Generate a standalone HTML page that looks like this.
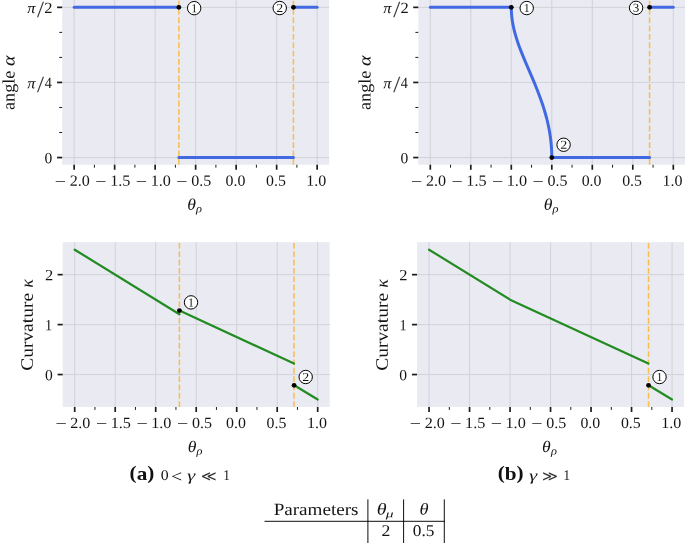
<!DOCTYPE html>
<html lang="en"><head><meta charset="utf-8"><title>Figure</title>
<style>html,body{margin:0;padding:0;background:#fff}body{width:685px;height:543px;overflow:hidden}svg{display:block}svg text{font-family:"Liberation Serif","DejaVu Serif",serif;font-kerning:none}</style>
</head><body>
<svg width="685" height="543" viewBox="0 0 685 543">
<rect width="685" height="543" fill="#fff"/>
<rect x="62.15" y="-0.10" width="267.0" height="164.85" fill="#eaeaf2"/>
<line x1="74.15" x2="74.15" y1="-0.10" y2="164.75" stroke="#cfcfd7" stroke-width="0.9"/>
<line x1="114.65" x2="114.65" y1="-0.10" y2="164.75" stroke="#cfcfd7" stroke-width="0.9"/>
<line x1="155.15" x2="155.15" y1="-0.10" y2="164.75" stroke="#cfcfd7" stroke-width="0.9"/>
<line x1="195.65" x2="195.65" y1="-0.10" y2="164.75" stroke="#cfcfd7" stroke-width="0.9"/>
<line x1="236.15" x2="236.15" y1="-0.10" y2="164.75" stroke="#cfcfd7" stroke-width="0.9"/>
<line x1="276.65" x2="276.65" y1="-0.10" y2="164.75" stroke="#cfcfd7" stroke-width="0.9"/>
<line x1="317.15" x2="317.15" y1="-0.10" y2="164.75" stroke="#cfcfd7" stroke-width="0.9"/>
<line x1="62.15" x2="329.15" y1="157.55" y2="157.55" stroke="#cfcfd7" stroke-width="0.9"/>
<line x1="62.15" x2="329.15" y1="82.45" y2="82.45" stroke="#cfcfd7" stroke-width="0.9"/>
<line x1="62.15" x2="329.15" y1="7.35" y2="7.35" stroke="#cfcfd7" stroke-width="0.9"/>
<line x1="74.15" x2="74.15" y1="164.75" y2="169.75" stroke="#1c1c1c" stroke-width="1.7"/>
<line x1="114.65" x2="114.65" y1="164.75" y2="169.75" stroke="#1c1c1c" stroke-width="1.7"/>
<line x1="155.15" x2="155.15" y1="164.75" y2="169.75" stroke="#1c1c1c" stroke-width="1.7"/>
<line x1="195.65" x2="195.65" y1="164.75" y2="169.75" stroke="#1c1c1c" stroke-width="1.7"/>
<line x1="236.15" x2="236.15" y1="164.75" y2="169.75" stroke="#1c1c1c" stroke-width="1.7"/>
<line x1="276.65" x2="276.65" y1="164.75" y2="169.75" stroke="#1c1c1c" stroke-width="1.7"/>
<line x1="317.15" x2="317.15" y1="164.75" y2="169.75" stroke="#1c1c1c" stroke-width="1.7"/>
<line x1="94.40" x2="94.40" y1="164.75" y2="167.65" stroke="#1c1c1c" stroke-width="1.0"/>
<line x1="134.90" x2="134.90" y1="164.75" y2="167.65" stroke="#1c1c1c" stroke-width="1.0"/>
<line x1="175.40" x2="175.40" y1="164.75" y2="167.65" stroke="#1c1c1c" stroke-width="1.0"/>
<line x1="215.90" x2="215.90" y1="164.75" y2="167.65" stroke="#1c1c1c" stroke-width="1.0"/>
<line x1="256.40" x2="256.40" y1="164.75" y2="167.65" stroke="#1c1c1c" stroke-width="1.0"/>
<line x1="296.90" x2="296.90" y1="164.75" y2="167.65" stroke="#1c1c1c" stroke-width="1.0"/>
<line x1="57.05" x2="62.15" y1="157.55" y2="157.55" stroke="#1c1c1c" stroke-width="1.7"/>
<line x1="57.05" x2="62.15" y1="82.45" y2="82.45" stroke="#1c1c1c" stroke-width="1.7"/>
<line x1="57.05" x2="62.15" y1="7.35" y2="7.35" stroke="#1c1c1c" stroke-width="1.7"/>
<line x1="59.25" x2="62.15" y1="132.52" y2="132.52" stroke="#1c1c1c" stroke-width="1.0"/>
<line x1="59.25" x2="62.15" y1="107.48" y2="107.48" stroke="#1c1c1c" stroke-width="1.0"/>
<line x1="59.25" x2="62.15" y1="57.42" y2="57.42" stroke="#1c1c1c" stroke-width="1.0"/>
<line x1="59.25" x2="62.15" y1="32.38" y2="32.38" stroke="#1c1c1c" stroke-width="1.0"/>
<text transform="translate(54.85,186.45) rotate(0.03) scale(1.2811,1)" font-size="15.6" fill="#141414">−</text>
<text transform="translate(69.74,185.85) rotate(0.03) scale(1.0318,1)" font-size="15.6" fill="#141414">2.0</text>
<text transform="translate(95.35,186.45) rotate(0.03) scale(1.2811,1)" font-size="15.6" fill="#141414">−</text>
<text transform="translate(110.13,185.85) rotate(0.03) scale(1.0388,1)" font-size="15.6" fill="#141414">1.5</text>
<text transform="translate(135.85,186.45) rotate(0.03) scale(1.2811,1)" font-size="15.6" fill="#141414">−</text>
<text transform="translate(150.63,185.85) rotate(0.03) scale(1.0379,1)" font-size="15.6" fill="#141414">1.0</text>
<text transform="translate(176.35,186.45) rotate(0.03) scale(1.2811,1)" font-size="15.6" fill="#141414">−</text>
<text transform="translate(191.34,185.85) rotate(0.03) scale(1.0275,1)" font-size="15.6" fill="#141414">0.5</text>
<text transform="translate(225.55,185.85) rotate(0.03) scale(1.0157,1)" font-size="15.6" fill="#141414">0.0</text>
<text transform="translate(266.05,185.85) rotate(0.03) scale(1.0166,1)" font-size="15.6" fill="#141414">0.5</text>
<text transform="translate(306.34,185.85) rotate(0.03) scale(1.0265,1)" font-size="15.6" fill="#141414">1.0</text>
<text transform="translate(44.46,163.15) rotate(0.03) scale(0.9982,1)" font-size="15.6" fill="#141414">0</text>
<text transform="translate(44.67,88.05) rotate(0.03) scale(0.9101,1)" font-size="15.6" fill="#141414">4</text>
<text transform="translate(37.05,92.05) rotate(0.03) scale(1.0860,1)" font-size="23.2" fill="#3a3a3a">/</text>
<text transform="translate(27.16,88.15) rotate(0.03) scale(1.0749,1)" font-size="15.25" font-style="italic" fill="#141414">π</text>
<text transform="translate(44.23,12.95) rotate(0.03) scale(1.0554,1)" font-size="15.6" fill="#141414">2</text>
<text transform="translate(37.05,16.95) rotate(0.03) scale(1.0860,1)" font-size="23.2" fill="#3a3a3a">/</text>
<text transform="translate(27.16,13.05) rotate(0.03) scale(1.0749,1)" font-size="15.25" font-style="italic" fill="#141414">π</text>
<line x1="178.87" x2="178.87" y1="164.75" y2="-0.10" stroke="#f9be50" stroke-width="1.55" stroke-dasharray="5.83 2.5"/>
<line x1="293.43" x2="293.43" y1="164.75" y2="-0.10" stroke="#f9be50" stroke-width="1.55" stroke-dasharray="5.83 2.5"/>
<line x1="74.15" x2="178.87" y1="7.35" y2="7.35" stroke="#4169e1" stroke-width="3.0" stroke-linecap="round"/>
<line x1="178.87" x2="293.43" y1="157.55" y2="157.55" stroke="#4169e1" stroke-width="3.0" stroke-linecap="round"/>
<line x1="293.43" x2="317.15" y1="7.35" y2="7.35" stroke="#4169e1" stroke-width="3.0" stroke-linecap="round"/>
<circle cx="178.87" cy="7.35" r="2.4" fill="#000"/>
<circle cx="293.43" cy="7.35" r="2.4" fill="#000"/>
<circle cx="194.17" cy="8.15" r="6.7" fill="#fff" stroke="#000" stroke-width="1.0"/>
<text transform="translate(191.23,12.15) rotate(0.03) scale(0.9779,1)" font-size="12.2" fill="#141414">1</text>
<circle cx="279.73" cy="8.05" r="6.7" fill="#fff" stroke="#000" stroke-width="1.0"/>
<text transform="translate(276.31,12.05) rotate(0.03) scale(1.1450,1)" font-size="12.2" fill="#141414">2</text>
<text transform="translate(187.19,209.75) rotate(0.03) scale(1.0903,1)" font-size="16.2" font-style="italic" fill="#141414">θ</text>
<text transform="translate(196.07,212.35) rotate(0.03) scale(1.1088,1)" font-size="11.2" font-style="italic" fill="#141414">ρ</text>
<g transform="translate(14.40,109.30) rotate(-90)">
<text transform="translate(-0.64,0.00) rotate(0.03) scale(1.0361,1)" font-size="17.5" fill="#141414">angle</text>
<text transform="translate(43.41,0.00) rotate(0.03) scale(1.1390,1)" font-size="17.5" font-style="italic" fill="#141414">α</text>
</g>
<rect x="418.30" y="-0.10" width="267.0" height="164.85" fill="#eaeaf2"/>
<line x1="430.30" x2="430.30" y1="-0.10" y2="164.75" stroke="#cfcfd7" stroke-width="0.9"/>
<line x1="470.80" x2="470.80" y1="-0.10" y2="164.75" stroke="#cfcfd7" stroke-width="0.9"/>
<line x1="511.30" x2="511.30" y1="-0.10" y2="164.75" stroke="#cfcfd7" stroke-width="0.9"/>
<line x1="551.80" x2="551.80" y1="-0.10" y2="164.75" stroke="#cfcfd7" stroke-width="0.9"/>
<line x1="592.30" x2="592.30" y1="-0.10" y2="164.75" stroke="#cfcfd7" stroke-width="0.9"/>
<line x1="632.80" x2="632.80" y1="-0.10" y2="164.75" stroke="#cfcfd7" stroke-width="0.9"/>
<line x1="673.30" x2="673.30" y1="-0.10" y2="164.75" stroke="#cfcfd7" stroke-width="0.9"/>
<line x1="418.30" x2="685.30" y1="157.55" y2="157.55" stroke="#cfcfd7" stroke-width="0.9"/>
<line x1="418.30" x2="685.30" y1="82.45" y2="82.45" stroke="#cfcfd7" stroke-width="0.9"/>
<line x1="418.30" x2="685.30" y1="7.35" y2="7.35" stroke="#cfcfd7" stroke-width="0.9"/>
<line x1="430.30" x2="430.30" y1="164.75" y2="169.75" stroke="#1c1c1c" stroke-width="1.7"/>
<line x1="470.80" x2="470.80" y1="164.75" y2="169.75" stroke="#1c1c1c" stroke-width="1.7"/>
<line x1="511.30" x2="511.30" y1="164.75" y2="169.75" stroke="#1c1c1c" stroke-width="1.7"/>
<line x1="551.80" x2="551.80" y1="164.75" y2="169.75" stroke="#1c1c1c" stroke-width="1.7"/>
<line x1="592.30" x2="592.30" y1="164.75" y2="169.75" stroke="#1c1c1c" stroke-width="1.7"/>
<line x1="632.80" x2="632.80" y1="164.75" y2="169.75" stroke="#1c1c1c" stroke-width="1.7"/>
<line x1="673.30" x2="673.30" y1="164.75" y2="169.75" stroke="#1c1c1c" stroke-width="1.7"/>
<line x1="450.55" x2="450.55" y1="164.75" y2="167.65" stroke="#1c1c1c" stroke-width="1.0"/>
<line x1="491.05" x2="491.05" y1="164.75" y2="167.65" stroke="#1c1c1c" stroke-width="1.0"/>
<line x1="531.55" x2="531.55" y1="164.75" y2="167.65" stroke="#1c1c1c" stroke-width="1.0"/>
<line x1="572.05" x2="572.05" y1="164.75" y2="167.65" stroke="#1c1c1c" stroke-width="1.0"/>
<line x1="612.55" x2="612.55" y1="164.75" y2="167.65" stroke="#1c1c1c" stroke-width="1.0"/>
<line x1="653.05" x2="653.05" y1="164.75" y2="167.65" stroke="#1c1c1c" stroke-width="1.0"/>
<line x1="413.20" x2="418.30" y1="157.55" y2="157.55" stroke="#1c1c1c" stroke-width="1.7"/>
<line x1="413.20" x2="418.30" y1="82.45" y2="82.45" stroke="#1c1c1c" stroke-width="1.7"/>
<line x1="413.20" x2="418.30" y1="7.35" y2="7.35" stroke="#1c1c1c" stroke-width="1.7"/>
<line x1="415.40" x2="418.30" y1="132.52" y2="132.52" stroke="#1c1c1c" stroke-width="1.0"/>
<line x1="415.40" x2="418.30" y1="107.48" y2="107.48" stroke="#1c1c1c" stroke-width="1.0"/>
<line x1="415.40" x2="418.30" y1="57.42" y2="57.42" stroke="#1c1c1c" stroke-width="1.0"/>
<line x1="415.40" x2="418.30" y1="32.38" y2="32.38" stroke="#1c1c1c" stroke-width="1.0"/>
<text transform="translate(411.00,186.45) rotate(0.03) scale(1.2811,1)" font-size="15.6" fill="#141414">−</text>
<text transform="translate(425.89,185.85) rotate(0.03) scale(1.0318,1)" font-size="15.6" fill="#141414">2.0</text>
<text transform="translate(451.50,186.45) rotate(0.03) scale(1.2811,1)" font-size="15.6" fill="#141414">−</text>
<text transform="translate(466.28,185.85) rotate(0.03) scale(1.0388,1)" font-size="15.6" fill="#141414">1.5</text>
<text transform="translate(492.00,186.45) rotate(0.03) scale(1.2811,1)" font-size="15.6" fill="#141414">−</text>
<text transform="translate(506.78,185.85) rotate(0.03) scale(1.0379,1)" font-size="15.6" fill="#141414">1.0</text>
<text transform="translate(532.50,186.45) rotate(0.03) scale(1.2811,1)" font-size="15.6" fill="#141414">−</text>
<text transform="translate(547.49,185.85) rotate(0.03) scale(1.0275,1)" font-size="15.6" fill="#141414">0.5</text>
<text transform="translate(581.70,185.85) rotate(0.03) scale(1.0157,1)" font-size="15.6" fill="#141414">0.0</text>
<text transform="translate(622.20,185.85) rotate(0.03) scale(1.0166,1)" font-size="15.6" fill="#141414">0.5</text>
<text transform="translate(662.49,185.85) rotate(0.03) scale(1.0265,1)" font-size="15.6" fill="#141414">1.0</text>
<text transform="translate(400.61,163.15) rotate(0.03) scale(0.9982,1)" font-size="15.6" fill="#141414">0</text>
<text transform="translate(400.82,88.05) rotate(0.03) scale(0.9101,1)" font-size="15.6" fill="#141414">4</text>
<text transform="translate(393.20,92.05) rotate(0.03) scale(1.0860,1)" font-size="23.2" fill="#3a3a3a">/</text>
<text transform="translate(383.31,88.15) rotate(0.03) scale(1.0749,1)" font-size="15.25" font-style="italic" fill="#141414">π</text>
<text transform="translate(400.38,12.95) rotate(0.03) scale(1.0554,1)" font-size="15.6" fill="#141414">2</text>
<text transform="translate(393.20,16.95) rotate(0.03) scale(1.0860,1)" font-size="23.2" fill="#3a3a3a">/</text>
<text transform="translate(383.31,13.05) rotate(0.03) scale(1.0749,1)" font-size="15.25" font-style="italic" fill="#141414">π</text>
<line x1="649.58" x2="649.58" y1="164.75" y2="-0.10" stroke="#f9be50" stroke-width="1.55" stroke-dasharray="5.83 2.5"/>
<line x1="430.30" x2="511.30" y1="7.35" y2="7.35" stroke="#4169e1" stroke-width="3.0" stroke-linecap="round"/>
<line x1="551.80" x2="649.58" y1="157.55" y2="157.55" stroke="#4169e1" stroke-width="3.0" stroke-linecap="round"/>
<line x1="649.58" x2="673.30" y1="7.35" y2="7.35" stroke="#4169e1" stroke-width="3.0" stroke-linecap="round"/>
<polyline points="511.30,7.35 511.31,8.60 511.34,9.85 511.38,11.11 511.44,12.36 511.52,13.61 511.62,14.86 511.74,16.11 511.87,17.36 512.02,18.62 512.19,19.87 512.38,21.12 512.58,22.37 512.80,23.62 513.03,24.87 513.28,26.13 513.54,27.38 513.83,28.63 514.12,29.88 514.43,31.13 514.75,32.38 515.09,33.64 515.44,34.89 515.81,36.14 516.18,37.39 516.57,38.64 516.97,39.89 517.38,41.15 517.81,42.40 518.24,43.65 518.68,44.90 519.13,46.15 519.59,47.40 520.06,48.66 520.54,49.91 521.02,51.16 521.51,52.41 522.01,53.66 522.51,54.91 523.02,56.17 523.54,57.42 524.05,58.67 524.58,59.92 525.10,61.17 525.63,62.42 526.16,63.68 526.70,64.93 527.23,66.18 527.77,67.43 528.31,68.68 528.85,69.93 529.39,71.19 529.93,72.44 530.47,73.69 531.00,74.94 531.54,76.19 532.07,77.44 532.60,78.70 533.13,79.95 533.66,81.20 534.18,82.45 534.70,83.70 535.22,84.95 535.73,86.21 536.23,87.46 536.74,88.71 537.23,89.96 537.73,91.21 538.21,92.46 538.69,93.72 539.17,94.97 539.63,96.22 540.10,97.47 540.55,98.72 541.00,99.97 541.44,101.23 541.87,102.48 542.30,103.73 542.72,104.98 543.13,106.23 543.53,107.48 543.92,108.74 544.31,109.99 544.68,111.24 545.05,112.49 545.41,113.74 545.76,114.99 546.10,116.25 546.44,117.50 546.76,118.75 547.07,120.00 547.38,121.25 547.67,122.50 547.96,123.76 548.23,125.01 548.50,126.26 548.76,127.51 549.00,128.76 549.24,130.01 549.46,131.27 549.68,132.52 549.88,133.77 550.08,135.02 550.26,136.27 550.44,137.52 550.60,138.78 550.76,140.03 550.90,141.28 551.03,142.53 551.15,143.78 551.27,145.03 551.37,146.29 551.46,147.54 551.54,148.79 551.61,150.04 551.67,151.29 551.71,152.54 551.75,153.80 551.78,155.05 551.79,156.30 551.80,157.55" fill="none" stroke="#4169e1" stroke-width="3.0" stroke-linecap="round" stroke-linejoin="round"/>
<circle cx="511.30" cy="7.35" r="2.4" fill="#000"/>
<circle cx="551.80" cy="157.55" r="2.4" fill="#000"/>
<circle cx="649.58" cy="7.35" r="2.4" fill="#000"/>
<circle cx="526.70" cy="8.05" r="6.7" fill="#fff" stroke="#000" stroke-width="1.0"/>
<text transform="translate(523.75,12.05) rotate(0.03) scale(0.9779,1)" font-size="12.2" fill="#141414">1</text>
<circle cx="563.60" cy="144.75" r="6.7" fill="#fff" stroke="#000" stroke-width="1.0"/>
<text transform="translate(560.19,148.75) rotate(0.03) scale(1.1450,1)" font-size="12.2" fill="#141414">2</text>
<circle cx="636.08" cy="7.85" r="6.7" fill="#fff" stroke="#000" stroke-width="1.0"/>
<text transform="translate(632.75,11.85) rotate(0.03) scale(1.0715,1)" font-size="12.2" fill="#141414">3</text>
<text transform="translate(543.74,209.75) rotate(0.03) scale(1.0903,1)" font-size="16.2" font-style="italic" fill="#141414">θ</text>
<text transform="translate(552.62,212.35) rotate(0.03) scale(1.1088,1)" font-size="11.2" font-style="italic" fill="#141414">ρ</text>
<g transform="translate(370.60,109.30) rotate(-90)">
<text transform="translate(-0.64,0.00) rotate(0.03) scale(1.0361,1)" font-size="17.5" fill="#141414">angle</text>
<text transform="translate(43.41,0.00) rotate(0.03) scale(1.1390,1)" font-size="17.5" font-style="italic" fill="#141414">α</text>
</g>
<rect x="62.70" y="242.15" width="267.0" height="164.85" fill="#eaeaf2"/>
<line x1="74.70" x2="74.70" y1="242.15" y2="407.00" stroke="#cfcfd7" stroke-width="0.9"/>
<line x1="115.20" x2="115.20" y1="242.15" y2="407.00" stroke="#cfcfd7" stroke-width="0.9"/>
<line x1="155.70" x2="155.70" y1="242.15" y2="407.00" stroke="#cfcfd7" stroke-width="0.9"/>
<line x1="196.20" x2="196.20" y1="242.15" y2="407.00" stroke="#cfcfd7" stroke-width="0.9"/>
<line x1="236.70" x2="236.70" y1="242.15" y2="407.00" stroke="#cfcfd7" stroke-width="0.9"/>
<line x1="277.20" x2="277.20" y1="242.15" y2="407.00" stroke="#cfcfd7" stroke-width="0.9"/>
<line x1="317.70" x2="317.70" y1="242.15" y2="407.00" stroke="#cfcfd7" stroke-width="0.9"/>
<line x1="62.70" x2="329.70" y1="374.54" y2="374.54" stroke="#cfcfd7" stroke-width="0.9"/>
<line x1="62.70" x2="329.70" y1="324.60" y2="324.60" stroke="#cfcfd7" stroke-width="0.9"/>
<line x1="62.70" x2="329.70" y1="274.66" y2="274.66" stroke="#cfcfd7" stroke-width="0.9"/>
<line x1="74.70" x2="74.70" y1="407.00" y2="412.00" stroke="#1c1c1c" stroke-width="1.7"/>
<line x1="115.20" x2="115.20" y1="407.00" y2="412.00" stroke="#1c1c1c" stroke-width="1.7"/>
<line x1="155.70" x2="155.70" y1="407.00" y2="412.00" stroke="#1c1c1c" stroke-width="1.7"/>
<line x1="196.20" x2="196.20" y1="407.00" y2="412.00" stroke="#1c1c1c" stroke-width="1.7"/>
<line x1="236.70" x2="236.70" y1="407.00" y2="412.00" stroke="#1c1c1c" stroke-width="1.7"/>
<line x1="277.20" x2="277.20" y1="407.00" y2="412.00" stroke="#1c1c1c" stroke-width="1.7"/>
<line x1="317.70" x2="317.70" y1="407.00" y2="412.00" stroke="#1c1c1c" stroke-width="1.7"/>
<line x1="94.95" x2="94.95" y1="407.00" y2="409.90" stroke="#1c1c1c" stroke-width="1.0"/>
<line x1="135.45" x2="135.45" y1="407.00" y2="409.90" stroke="#1c1c1c" stroke-width="1.0"/>
<line x1="175.95" x2="175.95" y1="407.00" y2="409.90" stroke="#1c1c1c" stroke-width="1.0"/>
<line x1="216.45" x2="216.45" y1="407.00" y2="409.90" stroke="#1c1c1c" stroke-width="1.0"/>
<line x1="256.95" x2="256.95" y1="407.00" y2="409.90" stroke="#1c1c1c" stroke-width="1.0"/>
<line x1="297.45" x2="297.45" y1="407.00" y2="409.90" stroke="#1c1c1c" stroke-width="1.0"/>
<line x1="57.60" x2="62.70" y1="374.54" y2="374.54" stroke="#1c1c1c" stroke-width="1.7"/>
<line x1="57.60" x2="62.70" y1="324.60" y2="324.60" stroke="#1c1c1c" stroke-width="1.7"/>
<line x1="57.60" x2="62.70" y1="274.66" y2="274.66" stroke="#1c1c1c" stroke-width="1.7"/>
<text transform="translate(55.40,428.70) rotate(0.03) scale(1.2811,1)" font-size="15.6" fill="#141414">−</text>
<text transform="translate(70.29,428.10) rotate(0.03) scale(1.0318,1)" font-size="15.6" fill="#141414">2.0</text>
<text transform="translate(95.90,428.70) rotate(0.03) scale(1.2811,1)" font-size="15.6" fill="#141414">−</text>
<text transform="translate(110.68,428.10) rotate(0.03) scale(1.0388,1)" font-size="15.6" fill="#141414">1.5</text>
<text transform="translate(136.40,428.70) rotate(0.03) scale(1.2811,1)" font-size="15.6" fill="#141414">−</text>
<text transform="translate(151.18,428.10) rotate(0.03) scale(1.0379,1)" font-size="15.6" fill="#141414">1.0</text>
<text transform="translate(176.90,428.70) rotate(0.03) scale(1.2811,1)" font-size="15.6" fill="#141414">−</text>
<text transform="translate(191.89,428.10) rotate(0.03) scale(1.0275,1)" font-size="15.6" fill="#141414">0.5</text>
<text transform="translate(226.10,428.10) rotate(0.03) scale(1.0157,1)" font-size="15.6" fill="#141414">0.0</text>
<text transform="translate(266.60,428.10) rotate(0.03) scale(1.0166,1)" font-size="15.6" fill="#141414">0.5</text>
<text transform="translate(306.89,428.10) rotate(0.03) scale(1.0265,1)" font-size="15.6" fill="#141414">1.0</text>
<text transform="translate(45.01,380.14) rotate(0.03) scale(0.9982,1)" font-size="15.6" fill="#141414">0</text>
<text transform="translate(45.05,330.20) rotate(0.03) scale(0.9104,1)" font-size="15.6" fill="#141414">1</text>
<text transform="translate(44.88,280.26) rotate(0.03) scale(1.0554,1)" font-size="15.6" fill="#141414">2</text>
<line x1="179.42" x2="179.42" y1="407.00" y2="242.15" stroke="#f9be50" stroke-width="1.55" stroke-dasharray="5.83 2.5"/>
<line x1="293.98" x2="293.98" y1="407.00" y2="242.15" stroke="#f9be50" stroke-width="1.55" stroke-dasharray="5.83 2.5"/>
<polyline points="74.70,249.69 179.42,314.26" fill="none" stroke="#228b22" stroke-width="2.2" stroke-linecap="round" stroke-linejoin="round"/>
<polyline points="179.42,310.60 293.98,363.57" fill="none" stroke="#228b22" stroke-width="2.2" stroke-linecap="round" stroke-linejoin="round"/>
<polyline points="294.18,385.30 317.70,399.51" fill="none" stroke="#228b22" stroke-width="2.2" stroke-linecap="round" stroke-linejoin="round"/>
<circle cx="179.42" cy="310.60" r="2.4" fill="#000"/>
<circle cx="294.08" cy="385.30" r="2.4" fill="#000"/>
<circle cx="191.02" cy="302.40" r="6.7" fill="#fff" stroke="#000" stroke-width="1.0"/>
<text transform="translate(188.08,306.40) rotate(0.03) scale(0.9779,1)" font-size="12.2" fill="#141414">1</text>
<circle cx="305.68" cy="377.00" r="6.7" fill="#fff" stroke="#000" stroke-width="1.0"/>
<text transform="translate(302.26,381.00) rotate(0.03) scale(1.1450,1)" font-size="12.2" fill="#141414">2</text>
<text transform="translate(187.74,452.00) rotate(0.03) scale(1.0903,1)" font-size="16.2" font-style="italic" fill="#141414">θ</text>
<text transform="translate(196.62,454.60) rotate(0.03) scale(1.1088,1)" font-size="11.2" font-style="italic" fill="#141414">ρ</text>
<g transform="translate(32.70,370.00) rotate(-90)">
<text transform="translate(-0.80,0.00) rotate(0.03) scale(1.1129,1)" font-size="17.5" fill="#141414">Curvature</text>
<text transform="translate(82.14,0.00) rotate(0.03) scale(1.0319,1)" font-size="17.5" font-style="italic" fill="#141414">κ</text>
</g>
<rect x="417.05" y="242.15" width="267.0" height="164.85" fill="#eaeaf2"/>
<line x1="429.05" x2="429.05" y1="242.15" y2="407.00" stroke="#cfcfd7" stroke-width="0.9"/>
<line x1="469.55" x2="469.55" y1="242.15" y2="407.00" stroke="#cfcfd7" stroke-width="0.9"/>
<line x1="510.05" x2="510.05" y1="242.15" y2="407.00" stroke="#cfcfd7" stroke-width="0.9"/>
<line x1="550.55" x2="550.55" y1="242.15" y2="407.00" stroke="#cfcfd7" stroke-width="0.9"/>
<line x1="591.05" x2="591.05" y1="242.15" y2="407.00" stroke="#cfcfd7" stroke-width="0.9"/>
<line x1="631.55" x2="631.55" y1="242.15" y2="407.00" stroke="#cfcfd7" stroke-width="0.9"/>
<line x1="672.05" x2="672.05" y1="242.15" y2="407.00" stroke="#cfcfd7" stroke-width="0.9"/>
<line x1="417.05" x2="684.05" y1="374.54" y2="374.54" stroke="#cfcfd7" stroke-width="0.9"/>
<line x1="417.05" x2="684.05" y1="324.60" y2="324.60" stroke="#cfcfd7" stroke-width="0.9"/>
<line x1="417.05" x2="684.05" y1="274.66" y2="274.66" stroke="#cfcfd7" stroke-width="0.9"/>
<line x1="429.05" x2="429.05" y1="407.00" y2="412.00" stroke="#1c1c1c" stroke-width="1.7"/>
<line x1="469.55" x2="469.55" y1="407.00" y2="412.00" stroke="#1c1c1c" stroke-width="1.7"/>
<line x1="510.05" x2="510.05" y1="407.00" y2="412.00" stroke="#1c1c1c" stroke-width="1.7"/>
<line x1="550.55" x2="550.55" y1="407.00" y2="412.00" stroke="#1c1c1c" stroke-width="1.7"/>
<line x1="591.05" x2="591.05" y1="407.00" y2="412.00" stroke="#1c1c1c" stroke-width="1.7"/>
<line x1="631.55" x2="631.55" y1="407.00" y2="412.00" stroke="#1c1c1c" stroke-width="1.7"/>
<line x1="672.05" x2="672.05" y1="407.00" y2="412.00" stroke="#1c1c1c" stroke-width="1.7"/>
<line x1="449.30" x2="449.30" y1="407.00" y2="409.90" stroke="#1c1c1c" stroke-width="1.0"/>
<line x1="489.80" x2="489.80" y1="407.00" y2="409.90" stroke="#1c1c1c" stroke-width="1.0"/>
<line x1="530.30" x2="530.30" y1="407.00" y2="409.90" stroke="#1c1c1c" stroke-width="1.0"/>
<line x1="570.80" x2="570.80" y1="407.00" y2="409.90" stroke="#1c1c1c" stroke-width="1.0"/>
<line x1="611.30" x2="611.30" y1="407.00" y2="409.90" stroke="#1c1c1c" stroke-width="1.0"/>
<line x1="651.80" x2="651.80" y1="407.00" y2="409.90" stroke="#1c1c1c" stroke-width="1.0"/>
<line x1="411.95" x2="417.05" y1="374.54" y2="374.54" stroke="#1c1c1c" stroke-width="1.7"/>
<line x1="411.95" x2="417.05" y1="324.60" y2="324.60" stroke="#1c1c1c" stroke-width="1.7"/>
<line x1="411.95" x2="417.05" y1="274.66" y2="274.66" stroke="#1c1c1c" stroke-width="1.7"/>
<text transform="translate(409.75,428.70) rotate(0.03) scale(1.2811,1)" font-size="15.6" fill="#141414">−</text>
<text transform="translate(424.64,428.10) rotate(0.03) scale(1.0318,1)" font-size="15.6" fill="#141414">2.0</text>
<text transform="translate(450.25,428.70) rotate(0.03) scale(1.2811,1)" font-size="15.6" fill="#141414">−</text>
<text transform="translate(465.03,428.10) rotate(0.03) scale(1.0388,1)" font-size="15.6" fill="#141414">1.5</text>
<text transform="translate(490.75,428.70) rotate(0.03) scale(1.2811,1)" font-size="15.6" fill="#141414">−</text>
<text transform="translate(505.53,428.10) rotate(0.03) scale(1.0379,1)" font-size="15.6" fill="#141414">1.0</text>
<text transform="translate(531.25,428.70) rotate(0.03) scale(1.2811,1)" font-size="15.6" fill="#141414">−</text>
<text transform="translate(546.24,428.10) rotate(0.03) scale(1.0275,1)" font-size="15.6" fill="#141414">0.5</text>
<text transform="translate(580.45,428.10) rotate(0.03) scale(1.0157,1)" font-size="15.6" fill="#141414">0.0</text>
<text transform="translate(620.95,428.10) rotate(0.03) scale(1.0166,1)" font-size="15.6" fill="#141414">0.5</text>
<text transform="translate(661.24,428.10) rotate(0.03) scale(1.0265,1)" font-size="15.6" fill="#141414">1.0</text>
<text transform="translate(399.36,380.14) rotate(0.03) scale(0.9982,1)" font-size="15.6" fill="#141414">0</text>
<text transform="translate(399.40,330.20) rotate(0.03) scale(0.9104,1)" font-size="15.6" fill="#141414">1</text>
<text transform="translate(399.23,280.26) rotate(0.03) scale(1.0554,1)" font-size="15.6" fill="#141414">2</text>
<line x1="648.53" x2="648.53" y1="407.00" y2="242.15" stroke="#f9be50" stroke-width="1.55" stroke-dasharray="5.83 2.5"/>
<polyline points="429.05,249.69 510.05,299.63 648.33,363.57" fill="none" stroke="#228b22" stroke-width="2.2" stroke-linecap="round" stroke-linejoin="round"/>
<polyline points="648.53,385.30 672.05,399.51" fill="none" stroke="#228b22" stroke-width="2.2" stroke-linecap="round" stroke-linejoin="round"/>
<circle cx="648.53" cy="385.30" r="2.4" fill="#000"/>
<circle cx="659.53" cy="377.00" r="6.7" fill="#fff" stroke="#000" stroke-width="1.0"/>
<text transform="translate(656.58,381.00) rotate(0.03) scale(0.9779,1)" font-size="12.2" fill="#141414">1</text>
<text transform="translate(542.09,452.00) rotate(0.03) scale(1.0903,1)" font-size="16.2" font-style="italic" fill="#141414">θ</text>
<text transform="translate(550.97,454.60) rotate(0.03) scale(1.1088,1)" font-size="11.2" font-style="italic" fill="#141414">ρ</text>
<g transform="translate(387.70,370.00) rotate(-90)">
<text transform="translate(-0.80,0.00) rotate(0.03) scale(1.1129,1)" font-size="17.5" fill="#141414">Curvature</text>
<text transform="translate(82.14,0.00) rotate(0.03) scale(1.0319,1)" font-size="17.5" font-style="italic" fill="#141414">κ</text>
</g>
<text transform="translate(129.57,479) scale(1.0837,1)" font-size="19.6" font-weight="bold" fill="#111">(<tspan dy="1">a</tspan><tspan dy="-1">)</tspan></text>
<text transform="translate(160.80,480.00) rotate(0.03) scale(1.0681,1)" font-size="14.8" fill="#141414">0</text>
<text transform="translate(171.12,481.94) rotate(0.03) scale(1.1630,1)" font-size="17.0" fill="#141414">&lt;</text>
<text transform="translate(187.14,480.40) rotate(0.03) scale(1.3375,1)" font-size="15.03" font-style="italic" fill="#141414">γ</text>
<text transform="translate(200.92,480.71) rotate(0.03) scale(1.0702,1)" font-size="13.98" style="font-family:'DejaVu Sans',sans-serif" fill="#333">≪</text>
<text transform="translate(223.13,480.00) rotate(0.03) scale(0.9021,1)" font-size="14.8" fill="#141414">1</text>
<text transform="translate(497.67,479) scale(1.0840,1)" font-size="19.6" font-weight="bold" fill="#111">(<tspan dy="1">b</tspan><tspan dy="-1">)</tspan></text>
<text transform="translate(529.14,480.40) rotate(0.03) scale(1.3375,1)" font-size="15.03" font-style="italic" fill="#141414">γ</text>
<text transform="translate(542.10,480.71) rotate(0.03) scale(1.0860,1)" font-size="13.98" style="font-family:'DejaVu Sans',sans-serif" fill="#333">≫</text>
<text transform="translate(563.45,480.00) rotate(0.03) scale(0.8829,1)" font-size="14.8" fill="#141414">1</text>
<text transform="translate(273.65,515.00) rotate(0.03) scale(1.1117,1)" font-size="17.2" fill="#141414">Parameters</text>
<line x1="264.5" x2="444.8" y1="521.3" y2="521.3" stroke="#000" stroke-width="0.95"/>
<line x1="367.9" x2="367.9" y1="499.4" y2="543" stroke="#000" stroke-width="0.95"/>
<line x1="403.6" x2="403.6" y1="499.4" y2="543" stroke="#000" stroke-width="0.95"/>
<line x1="444.3" x2="444.3" y1="499.4" y2="543" stroke="#000" stroke-width="0.95"/>
<text transform="translate(376.72,514.54) rotate(0.03) scale(1.2049,1)" font-size="16.64" font-style="italic" fill="#141414">θ</text>
<text transform="translate(385.82,517.24) rotate(0.03) scale(1.5372,1)" font-size="10.11" font-style="italic" fill="#141414">μ</text>
<text transform="translate(419.50,514.54) rotate(0.03) scale(1.1045,1)" font-size="16.64" font-style="italic" fill="#141414">θ</text>
<text transform="translate(381.62,536.00) rotate(0.03) scale(1.0799,1)" font-size="16.4" fill="#141414">2</text>
<text transform="translate(412.84,536.00) rotate(0.03) scale(1.0554,1)" font-size="16.4" fill="#141414">0.5</text>
</svg>
</body></html>
